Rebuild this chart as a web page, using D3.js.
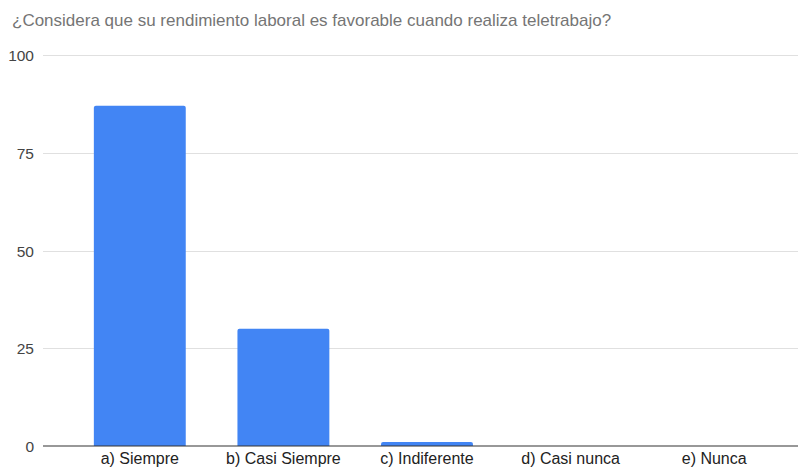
<!DOCTYPE html>
<html>
<head>
	<meta charset="utf-8" />
	<title>Rendimiento laboral</title>
	<script src="https://cdn.jsdelivr.net/npm/d3@7"></script>
	<style>
		body { margin: 0; background: #fff; }
		text { font-family: Arial, "Liberation Sans", sans-serif; }
	</style>
</head>
<body>
<script>

var categories = ["a) Siempre", "b) Casi Siempre", "c) Indiferente", "d) Casi nunca", "e) Nunca"];
var values = [87, 30, 1, 0, 0];
var yTicks = [0, 25, 50, 75, 100];
var title = "¿Considera que su rendimiento laboral es favorable cuando realiza teletrabajo?";

var W = 798, H = 469;

var svg = d3.select("body").append("svg")
	.attr("width", W)
	.attr("height", H);

var x = d3.scaleBand()
	.domain(categories)
	.range([68, 786])
	.paddingInner(0.36)
	.paddingOuter(0.18);

var y = d3.scaleLinear()
	.domain([0, 100])
	.range([446, 55]);

svg.append("text")
	.attr("x", 12)
	.attr("y", 26)
	.attr("fill", "#757575")
	.attr("font-size", "17px")
	.text(title);

// grid lines
svg.selectAll("line.grid")
	.data(yTicks.filter(function(d){ return d > 0; }))
	.enter()
	.append("line")
	.attr("class", "grid")
	.attr("x1", 43)
	.attr("x2", W)
	.attr("y1", function(d){ return Math.round(y(d)) + 0.5; })
	.attr("y2", function(d){ return Math.round(y(d)) + 0.5; })
	.attr("stroke", "#e0e0e0")
	.attr("stroke-width", 1);

svg.selectAll("text.ylab")
	.data(yTicks)
	.enter()
	.append("text")
	.attr("class", "ylab")
	.attr("x", 34)
	.attr("y", function(d){ return y(d) + 6; })
	.attr("text-anchor", "end")
	.attr("fill", "#444")
	.attr("font-size", "15.5px")
	.text(function(d){ return d; });

// bars with slightly rounded top corners
svg.selectAll("path.bar")
	.data(values)
	.enter()
	.append("path")
	.attr("class", "bar")
	.attr("fill", "#4285f4")
	.attr("d", function(d, i) {
		var x0 = x(categories[i]), w = x.bandwidth();
		var y0 = y(d), yb = y(0);
		var h = yb - y0;
		if (h <= 0) return "";
		var r = Math.min(2, h);
		return "M" + x0 + "," + yb +
			"V" + (y0 + r) +
			"Q" + x0 + "," + y0 + " " + (x0 + r) + "," + y0 +
			"H" + (x0 + w - r) +
			"Q" + (x0 + w) + "," + y0 + " " + (x0 + w) + "," + (y0 + r) +
			"V" + yb + "Z";
	});

// baseline
svg.append("line")
	.attr("x1", 43)
	.attr("x2", W)
	.attr("y1", y(0))
	.attr("y2", y(0))
	.attr("stroke", "#333")
	.attr("stroke-width", 1.2);

svg.selectAll("text.xlab")
	.data(categories)
	.enter()
	.append("text")
	.attr("class", "xlab")
	.attr("x", function(d){ return x(d) + x.bandwidth() / 2; })
	.attr("y", 464)
	.attr("text-anchor", "middle")
	.attr("fill", "#222")
	.attr("font-size", "16px")
	.text(function(d){ return d; });

</script>
</body>
</html>
